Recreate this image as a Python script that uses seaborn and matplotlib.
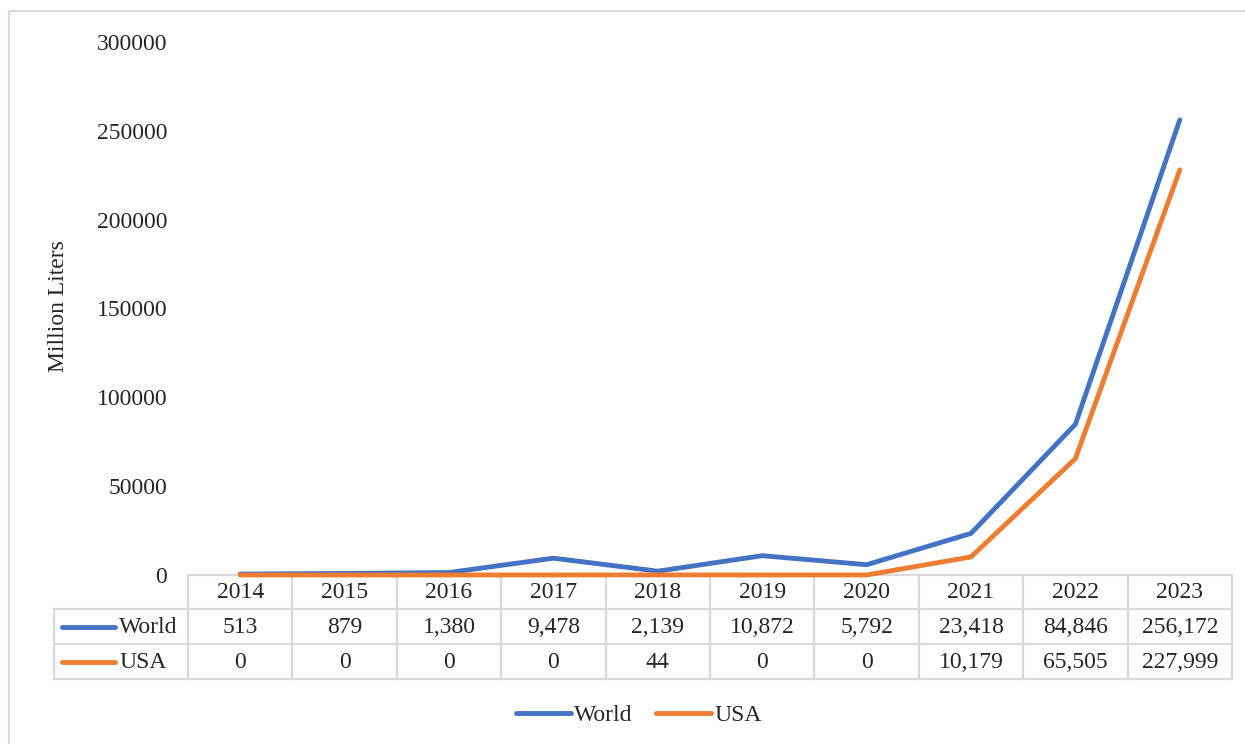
import matplotlib
matplotlib.use("Agg")
import matplotlib.pyplot as plt
import matplotlib.transforms as mtransforms
from matplotlib.lines import Line2D
import seaborn as sns
import pandas as pd

# Data
years = ["2014", "2015", "2016", "2017", "2018", "2019", "2020", "2021", "2022", "2023"]
world = [513, 879, 1380, 9478, 2139, 10872, 5792, 23418, 84846, 256172]
usa = [0, 0, 0, 0, 44, 0, 0, 10179, 65505, 227999]
series_names = ["World", "USA"]
colors = {"World": "#4472C4", "USA": "#ED7D31"}
y_ticks = [0, 50000, 100000, 150000, 200000, 250000, 300000]

sns.set_theme(style="white")
plt.rcParams["font.family"] = ["Liberation Serif", "DejaVu Serif"]

FS = 17
LW = 3.5

W, H = 1245, 744
fig = plt.figure(figsize=(W / 100, H / 100), dpi=100)

def fx(px):
    return px / W

def fy(py):
    return 1 - py / H

ax_left, ax_right, ax_top, ax_bottom = 188, 1232, 42, 575
ax = fig.add_axes([fx(ax_left), fy(ax_bottom), fx(ax_right - ax_left), fy(ax_top) - fy(ax_bottom)])

df = pd.DataFrame({
    "pos": list(range(len(years))) * 2,
    "value": world + usa,
    "series": ["World"] * len(years) + ["USA"] * len(years),
})
sns.lineplot(data=df, x="pos", y="value", hue="series", hue_order=series_names,
             palette=colors, linewidth=LW, ax=ax, legend=False)
for ln in ax.lines:
    ln.set_solid_capstyle("round")
    ln.set_solid_joinstyle("round")
    ln.set_clip_on(False)

ax.set_xlim(-0.5, len(years) - 0.5)
ax.set_ylim(0, 300000)
ax.set_yticks(y_ticks)
ax.set_yticklabels([str(v) for v in y_ticks], fontsize=FS)
ax.tick_params(axis="y", length=0, pad=15)
ax.set_xticks([])
ax.set_xlabel("")
ax.set_ylabel("")
for s in ax.spines.values():
    s.set_visible(False)

fig.text(fx(58), fy(306), "Million Liters", rotation=90, ha="center", va="center", fontsize=FS)

# Data table below the plot
grid_color = "#d9d9d9"
trans = mtransforms.blended_transform_factory(ax.transData, fig.transFigure)
row_edges = [575, 609, 644, 679]
n = len(years)

def hline(x0, x1, py):
    ax.add_line(Line2D([x0, x1], [fy(py), fy(py)], transform=trans, color=grid_color,
                       lw=1.6, clip_on=False, zorder=1))

def vline(x, py0, py1):
    ax.add_line(Line2D([x, x], [fy(py0), fy(py1)], transform=trans, color=grid_color,
                       lw=1.6, clip_on=False, zorder=1))

hline(-0.5, n - 0.5, row_edges[0])
for py in row_edges[1:]:
    fig.add_artist(Line2D([fx(54), fx(ax_left)], [fy(py), fy(py)], color=grid_color, lw=1.6))
    hline(-0.5, n - 0.5, py)
for i in range(n + 1):
    vline(i - 0.5, row_edges[0], row_edges[-1])
fig.add_artist(Line2D([fx(54), fx(54)], [fy(row_edges[1]), fy(row_edges[-1])], color=grid_color, lw=1.6))

def fmt(v):
    return f"{v:,}"

for i, yr in enumerate(years):
    ax.text(i, fy((row_edges[0] + row_edges[1]) / 2 + 1), yr, transform=trans, ha="center",
            va="center", fontsize=FS, clip_on=False)
    ax.text(i, fy((row_edges[1] + row_edges[2]) / 2 + 1), fmt(world[i]), transform=trans,
            ha="center", va="center", fontsize=FS, clip_on=False)
    ax.text(i, fy((row_edges[2] + row_edges[3]) / 2 + 1), fmt(usa[i]), transform=trans,
            ha="center", va="center", fontsize=FS, clip_on=False)

for k, name in enumerate(series_names):
    yc = (row_edges[k + 1] + row_edges[k + 2]) / 2
    fig.add_artist(Line2D([fx(62), fx(115)], [fy(yc), fy(yc)], color=colors[name], lw=LW,
                          solid_capstyle="round"))
    fig.text(fx(119), fy(yc + 1), name, ha="left", va="center", fontsize=FS)

# Legend
handles = [Line2D([], [], color=colors[nm], lw=LW, solid_capstyle="round") for nm in series_names]
fig.legend(handles, series_names, loc="center", bbox_to_anchor=(fx(639), fy(715)), ncol=2,
           frameon=False, fontsize=FS, handlelength=2.3, handletextpad=0.15,
           columnspacing=1.0)

# Chart area border (top and left edges visible)
fig.add_artist(Line2D([fx(9), 1.05], [fy(11), fy(11)], color=grid_color, lw=1.5))
fig.add_artist(Line2D([fx(9), fx(9)], [fy(11), -0.05], color=grid_color, lw=1.5))

fig.savefig("out.png", dpi=100, facecolor="white")
